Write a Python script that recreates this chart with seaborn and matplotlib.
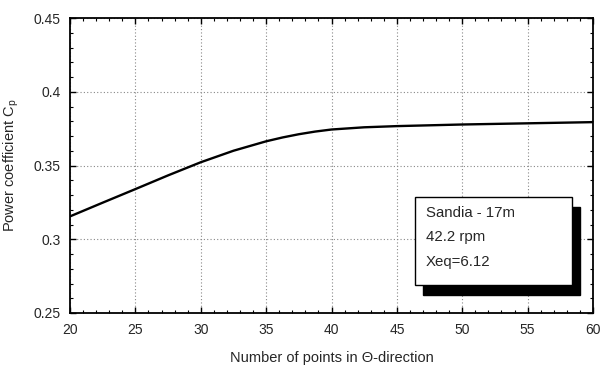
import matplotlib
matplotlib.use("Agg")
import matplotlib.pyplot as plt
import seaborn as sns
import pandas as pd
from matplotlib.patches import Rectangle
from matplotlib.ticker import MultipleLocator

n_points = [20, 22.5, 25, 27.5, 30, 32.5, 35, 36.25, 37.5, 38.75, 40, 42.5, 45, 50, 55, 60]
cp = [0.3155, 0.3248, 0.334, 0.3433, 0.3522, 0.3600, 0.3664, 0.3690, 0.3712, 0.3730, 0.3744, 0.3759, 0.3767, 0.3778, 0.3786, 0.3794]
x_ticks = [20, 25, 30, 35, 40, 45, 50, 55, 60]
y_ticks = [0.25, 0.3, 0.35, 0.4, 0.45]
y_tick_labels = ["0.25", "0.3", "0.35", "0.4", "0.45"]
box_lines = ["Sandia - 17m", "42.2 rpm", "Xeq=6.12"]

sns.set_style("ticks")
plt.rcParams['font.family'] = ['Liberation Sans', 'DejaVu Sans']

fig = plt.figure(figsize=(6.01, 3.65), dpi=100)
ax = fig.add_axes([70 / 601, 1 - 313 / 365, 523 / 601, 295 / 365])

df = pd.DataFrame({"n": n_points, "cp": cp})
sns.lineplot(data=df, x="n", y="cp", ax=ax, color="black", linewidth=1.7)

ax.set_xlim(20, 60)
ax.set_ylim(0.25, 0.45)
ax.set_xticks(x_ticks)
ax.set_xticklabels([str(t) for t in x_ticks])
ax.set_yticks(y_ticks)
ax.set_yticklabels(y_tick_labels)
ax.xaxis.set_minor_locator(MultipleLocator(1))
ax.yaxis.set_minor_locator(MultipleLocator(0.01))
ax.tick_params(which="both", direction="in", top=True, right=True, color="black")
ax.tick_params(which="major", length=4, width=1, labelsize=10, pad=7)
ax.tick_params(which="minor", length=2, width=0.8)
for s in ax.spines.values():
    s.set_linewidth(1.3)
    s.set_color("black")
ax.grid(True, which="major", linestyle=(0, (1, 2)), color="#888888", linewidth=0.8)

ax.set_xlabel("Number of points in \u0398-direction", fontsize=10.5, labelpad=10)
ax.set_ylabel("Power coefficient C$_\\mathregular{p}$", fontsize=10.5, labelpad=9)

# annotation box with drop shadow
bx0, bx1 = 46.39, 58.39
by0, by1 = 0.2691, 0.3285
dx, dy = 0.61, 0.0068
ax.add_patch(Rectangle((bx0 + dx, by0 - dy), bx1 - bx0, by1 - by0, facecolor="black",
                       edgecolor="black", zorder=5))
ax.add_patch(Rectangle((bx0, by0), bx1 - bx0, by1 - by0, facecolor="white",
                       edgecolor="black", linewidth=1.0, zorder=6))
for txt, yy in zip(box_lines, [0.3180, 0.3013, 0.2846]):
    ax.text(bx0 + 0.8, yy, txt, fontsize=10.8, va="center", ha="left", zorder=7)

fig.savefig("out.png", dpi=100)
